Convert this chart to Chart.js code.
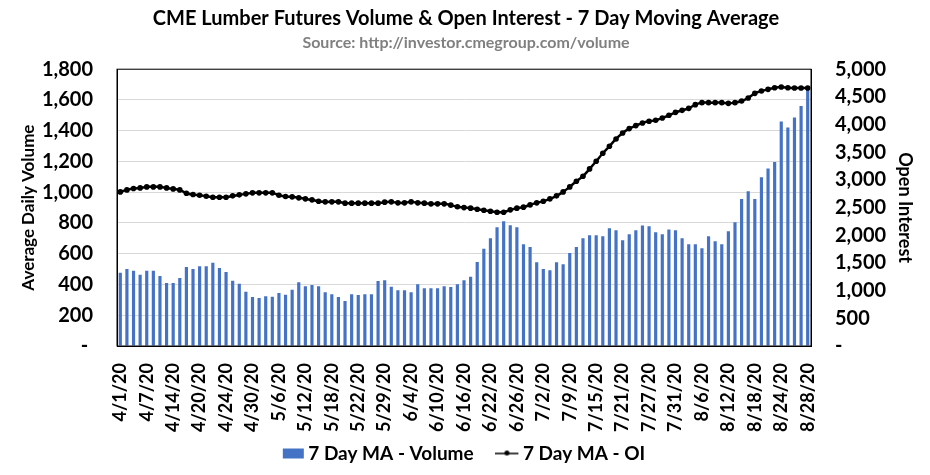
<!DOCTYPE html>
<html lang="en">
  <head>
    <meta charset="UTF-8" />
    <title>CME Lumber Futures Volume & Open Interest</title>
    <script src="https://cdn.jsdelivr.net/npm/chart.js"></script>
    <style>
      html, body { margin: 0; padding: 0; background: #fff; }
      #wrap { width: 930px; height: 475px; }
    </style>
  </head>
  <body>
    <div id="wrap"><canvas id="lumber-chart" width="930" height="475"></canvas></div>
    <script>
      // trading days, 4/1/20 - 8/28/20 (Good Friday, Memorial Day, 7/3 closed)
      const dates = [
        "4/1/20", "4/2/20", "4/3/20", "4/6/20", "4/7/20", "4/8/20", "4/9/20", "4/13/20", "4/14/20", "4/15/20",
        "4/16/20", "4/17/20", "4/20/20", "4/21/20", "4/22/20", "4/23/20", "4/24/20", "4/27/20", "4/28/20", "4/29/20",
        "4/30/20", "5/1/20", "5/4/20", "5/5/20", "5/6/20", "5/7/20", "5/8/20", "5/11/20", "5/12/20", "5/13/20",
        "5/14/20", "5/15/20", "5/18/20", "5/19/20", "5/20/20", "5/21/20", "5/22/20", "5/26/20", "5/27/20", "5/28/20",
        "5/29/20", "6/1/20", "6/2/20", "6/3/20", "6/4/20", "6/5/20", "6/8/20", "6/9/20", "6/10/20", "6/11/20",
        "6/12/20", "6/15/20", "6/16/20", "6/17/20", "6/18/20", "6/19/20", "6/22/20", "6/23/20", "6/24/20", "6/25/20",
        "6/26/20", "6/29/20", "6/30/20", "7/1/20", "7/2/20", "7/6/20", "7/7/20", "7/8/20", "7/9/20", "7/10/20",
        "7/13/20", "7/14/20", "7/15/20", "7/16/20", "7/17/20", "7/20/20", "7/21/20", "7/22/20", "7/23/20", "7/24/20",
        "7/27/20", "7/28/20", "7/29/20", "7/30/20", "7/31/20", "8/3/20", "8/4/20", "8/5/20", "8/6/20", "8/7/20",
        "8/10/20", "8/11/20", "8/12/20", "8/13/20", "8/14/20", "8/17/20", "8/18/20", "8/19/20", "8/20/20", "8/21/20",
        "8/24/20", "8/25/20", "8/26/20", "8/27/20", "8/28/20"
      ];

      const volumeMA = [
        476, 500, 489, 463, 489, 489, 456, 409, 409, 443,
        513, 500, 519, 519, 541, 508, 482, 424, 404, 352,
        318, 312, 324, 320, 344, 333, 365, 415, 389, 396,
        389, 350, 337, 318, 292, 337, 331, 337, 337, 422,
        428, 385, 363, 363, 350, 402, 376, 376, 376, 389,
        383, 402, 428, 450, 547, 632, 701, 772, 811, 785,
        772, 662, 643, 545, 500, 493, 545, 532, 604, 643,
        701, 720, 720, 714, 766, 753, 688, 727, 753, 783,
        779, 740, 727, 757, 753, 701, 662, 662, 636, 714,
        681, 662, 746, 805, 956, 1006, 956, 1097, 1155, 1196,
        1460, 1421, 1486, 1560, 1680
      ];

      const openInterestMA = [
        2784, 2820, 2845, 2856, 2874, 2874, 2874, 2856, 2838, 2820,
        2760, 2736, 2724, 2706, 2688, 2688, 2688, 2712, 2730, 2748,
        2766, 2766, 2766, 2766, 2724, 2700, 2694, 2676, 2658, 2640,
        2616, 2604, 2604, 2604, 2580, 2580, 2580, 2580, 2580, 2580,
        2598, 2604, 2586, 2586, 2604, 2586, 2580, 2568, 2568, 2568,
        2544, 2514, 2500, 2490, 2471, 2453, 2435, 2417, 2417, 2459,
        2490, 2508, 2549, 2586, 2616, 2658, 2712, 2784, 2874, 2977,
        3067, 3199, 3337, 3482, 3608, 3740, 3848, 3927, 3981, 4029,
        4059, 4077, 4119, 4167, 4221, 4257, 4293, 4360, 4396, 4396,
        4396, 4396, 4383, 4396, 4426, 4480, 4564, 4606, 4636, 4666,
        4678, 4666, 4660, 4660, 4660
      ];

      const BAR_BLUE = "#4472C4";
      const FONT = "Lato";

      function fmt(v) {
        return v === 0 ? "-" : v.toLocaleString("en-US");
      }

      // little legend swatches, like the Excel ones
      function swatch(kind) {
        const c = document.createElement("canvas");
        c.width = 24;
        c.height = 12;
        const g = c.getContext("2d");
        if (kind === "bar") {
          g.fillStyle = BAR_BLUE;
          g.fillRect(2, 1, 21, 10);
        } else {
          g.strokeStyle = "#000";
          g.fillStyle = "#000";
          g.lineWidth = 1.5;
          g.beginPath();
          g.moveTo(0, 6);
          g.lineTo(23, 6);
          g.stroke();
          g.beginPath();
          g.arc(11.5, 5.5, 2.5, 0, Math.PI * 2);
          g.fill();
        }
        return c;
      }

      const plotBox = {
        id: "plotBox",
        afterDraw(chart) {
          const { ctx, chartArea: a } = chart;
          ctx.save();
          ctx.strokeStyle = "#000";
          ctx.lineWidth = 1;
          ctx.strokeRect(a.left, a.top, a.right - a.left, a.bottom - a.top);
          ctx.restore();
        },
      };

      new Chart(document.getElementById("lumber-chart"), {
        data: {
          labels: dates,
          datasets: [
            {
              type: "line",
              label: "7 Day MA - OI",
              data: openInterestMA,
              yAxisID: "yOI",
              borderColor: "#000",
              backgroundColor: "#000",
              borderWidth: 2.5,
              pointRadius: 2.8,
              pointBackgroundColor: "#000",
              pointBorderWidth: 0,
              tension: 0.3,
            },
            {
              type: "bar",
              label: "7 Day MA - Volume",
              data: volumeMA,
              yAxisID: "yVol",
              backgroundColor: BAR_BLUE,
              barPercentage: 0.48,
              categoryPercentage: 1.0,
            },
          ],
        },
        options: {
          responsive: false,
          animation: false,
          layout: { padding: { left: 12, right: 10, top: 0, bottom: 2 } },
          plugins: {
            title: {
              display: true,
              text: "CME Lumber Futures Volume & Open Interest - 7 Day Moving Average",
              color: "#000",
              font: { family: FONT, size: 20, weight: "bold" },
              padding: { top: 7, bottom: 2 },
            },
            subtitle: {
              display: true,
              text: "Source: http://investor.cmegroup.com/volume",
              color: "#808080",
              font: { family: FONT, size: 16, weight: "bold" },
              padding: { bottom: 17 },
            },
            legend: {
              position: "bottom",
              labels: {
                usePointStyle: true,
                pointStyleWidth: 12,
                color: "#000",
                font: { family: FONT, size: 19, weight: "bold" },
                padding: 4,
                generateLabels: () => [
                  { text: "7 Day MA - Volume\u2003\u2002", pointStyle: swatch("bar"), datasetIndex: 1, lineWidth: 0, strokeStyle: "transparent", fillStyle: BAR_BLUE },
                  { text: "7 Day MA - OI", pointStyle: swatch("line"), datasetIndex: 0, lineWidth: 0, strokeStyle: "transparent", fillStyle: "#000" },
                ],
              },
            },
            tooltip: { enabled: false },
          },
          scales: {
            x: {
              grid: { display: false },
              border: { display: true, color: "#000" },
              afterFit: (s) => { s.height = 94; },
              ticks: {
                autoSkip: false,
                minRotation: 90,
                maxRotation: 90,
                color: "#000",
                padding: 9,
                font: { family: FONT, size: 18, weight: "bold" },
                callback: (v, i) => (i % 4 === 0 ? dates[i] : null),
              },
            },
            yVol: {
              position: "left",
              min: 0,
              max: 1800,
              grid: { color: "#d9d9d9", drawTicks: false },
              border: { display: true, color: "#000" },
              afterFit: (s) => { s.width = 105; },
              ticks: {
                stepSize: 200,
                color: "#000",
                padding: 24,
                font: { family: FONT, size: 20, weight: "bold" },
                callback: (v) => (v === 0 ? "- " : fmt(v)),
              },
              title: {
                display: true,
                text: "Average Daily Volume",
                color: "#000",
                font: { family: FONT, size: 17, weight: "bold" },
                padding: { top: 6, bottom: 4 },
              },
            },
            yOI: {
              position: "right",
              min: 0,
              max: 5000,
              grid: { drawOnChartArea: false, drawTicks: false },
              border: { display: true, color: "#000" },
              afterFit: (s) => { s.width = 109; },
              ticks: {
                stepSize: 500,
                color: "#000",
                padding: 24,
                font: { family: FONT, size: 20, weight: "bold" },
                callback: fmt,
              },
              title: {
                display: true,
                text: "Open Interest",
                color: "#000",
                font: { family: FONT, size: 18, weight: "bold" },
                padding: { top: 4, bottom: 4 },
              },
            },
          },
        },
        plugins: [plotBox],
      });
    </script>
  </body>
</html>
